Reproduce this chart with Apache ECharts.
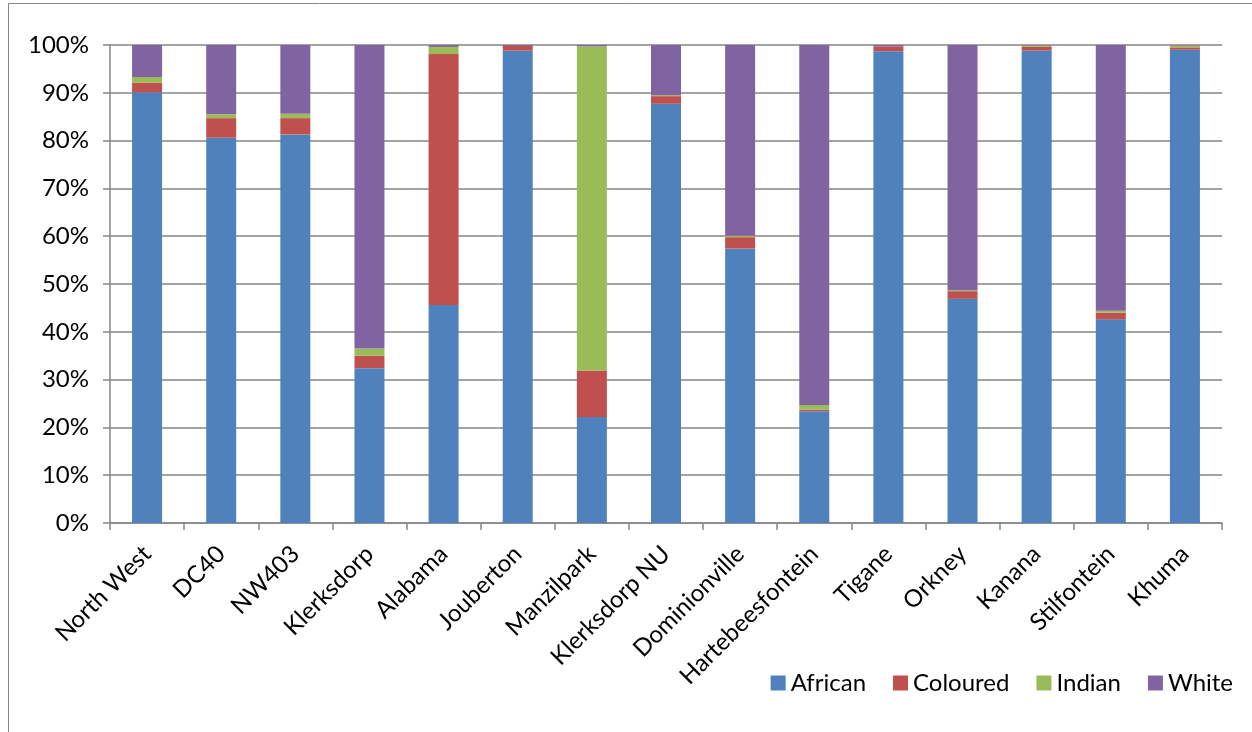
<!DOCTYPE html>
<html>
<head>
<meta charset="utf-8">
<script src="https://cdn.jsdelivr.net/npm/echarts@6/dist/echarts.min.js"></script>
<style>
  html, body { margin: 0; padding: 0; background: #fff; }
  #chart { width: 1252px; height: 732px; }
</style>
</head>
<body>
<div id="chart"></div>
<script>
// Population group share (%) by area
const places = ['North West', 'DC40', 'NW403', 'Klerksdorp', 'Alabama', 'Jouberton', 'Manzilpark',
  'Klerksdorp NU', 'Dominionville', 'Hartebeesfontein', 'Tigane', 'Orkney', 'Kanana', 'Stilfontein', 'Khuma'];
const african  = [90.1, 80.6, 81.3, 32.4, 45.6, 98.8, 22.2, 87.7, 57.4, 23.4, 98.7, 46.9, 98.8, 42.6, 99.0];
const coloured = [2.0, 4.1, 3.4, 2.6, 52.5, 1.0, 9.7, 1.6, 2.4, 0.3, 1.0, 1.6, 0.8, 1.4, 0.5];
const indian   = [1.2, 0.8, 0.9, 1.5, 1.5, 0.0, 67.8, 0.2, 0.3, 1.0, 0.0, 0.2, 0.3, 0.4, 0.4];
const white    = [6.7, 14.5, 14.4, 63.5, 0.4, 0.2, 0.3, 10.5, 39.9, 75.3, 0.3, 51.3, 0.1, 55.6, 0.1];
const yTicks = { min: 0, max: 100, interval: 10 };

const FONT = 'Lato';
const GRAY = '#868686';

const seriesDefs = [
  { name: 'African', data: african, color: '#4F81BD' },
  { name: 'Coloured', data: coloured, color: '#C0504D' },
  { name: 'Indian', data: indian, color: '#9BBB59' },
  { name: 'White', data: white, color: '#8064A2' }
];

const chart = echarts.init(document.getElementById('chart'), null, { renderer: 'canvas' });
chart.setOption({
  animation: false,
  backgroundColor: '#ffffff',
  textStyle: { fontFamily: FONT },
  graphic: [{
    type: 'rect',
    shape: { x: 8.5, y: 3.5, width: 1260, height: 760 },
    style: { fill: 'none', stroke: GRAY, lineWidth: 1 },
    silent: true
  }],
  grid: { left: 110, right: 30, top: 45, bottom: 209, containLabel: false },
  legend: {
    right: 14,
    top: 666,
    itemWidth: 15,
    itemHeight: 15,
    itemGap: 27,
    icon: 'rect',
    textStyle: { fontFamily: FONT, fontSize: 24, color: '#000' },
    data: seriesDefs.map(s => s.name)
  },
  xAxis: {
    type: 'category',
    data: places,
    axisLine: { lineStyle: { color: GRAY, width: 1.5 } },
    axisTick: { show: true, alignWithLabel: false, length: 7, lineStyle: { color: GRAY, width: 1.5 } },
    axisLabel: {
      interval: 0,
      rotate: 45,
      margin: 27,
      fontFamily: FONT,
      fontSize: 24,
      color: '#000'
    }
  },
  yAxis: {
    type: 'value',
    min: yTicks.min,
    max: yTicks.max,
    interval: yTicks.interval,
    axisLine: { show: true, lineStyle: { color: GRAY, width: 1.5 } },
    axisTick: { show: true, length: 7, lineStyle: { color: GRAY, width: 1.5 } },
    splitLine: { show: true, lineStyle: { color: GRAY, width: 1.5 } },
    axisLabel: {
      formatter: '{value}%',
      margin: 21,
      fontFamily: FONT,
      fontSize: 24,
      color: '#000'
    }
  },
  series: seriesDefs.map(s => ({
    name: s.name,
    type: 'bar',
    stack: 'total',
    barWidth: 30,
    data: s.data,
    itemStyle: { color: s.color }
  }))
});
</script>
</body>
</html>
